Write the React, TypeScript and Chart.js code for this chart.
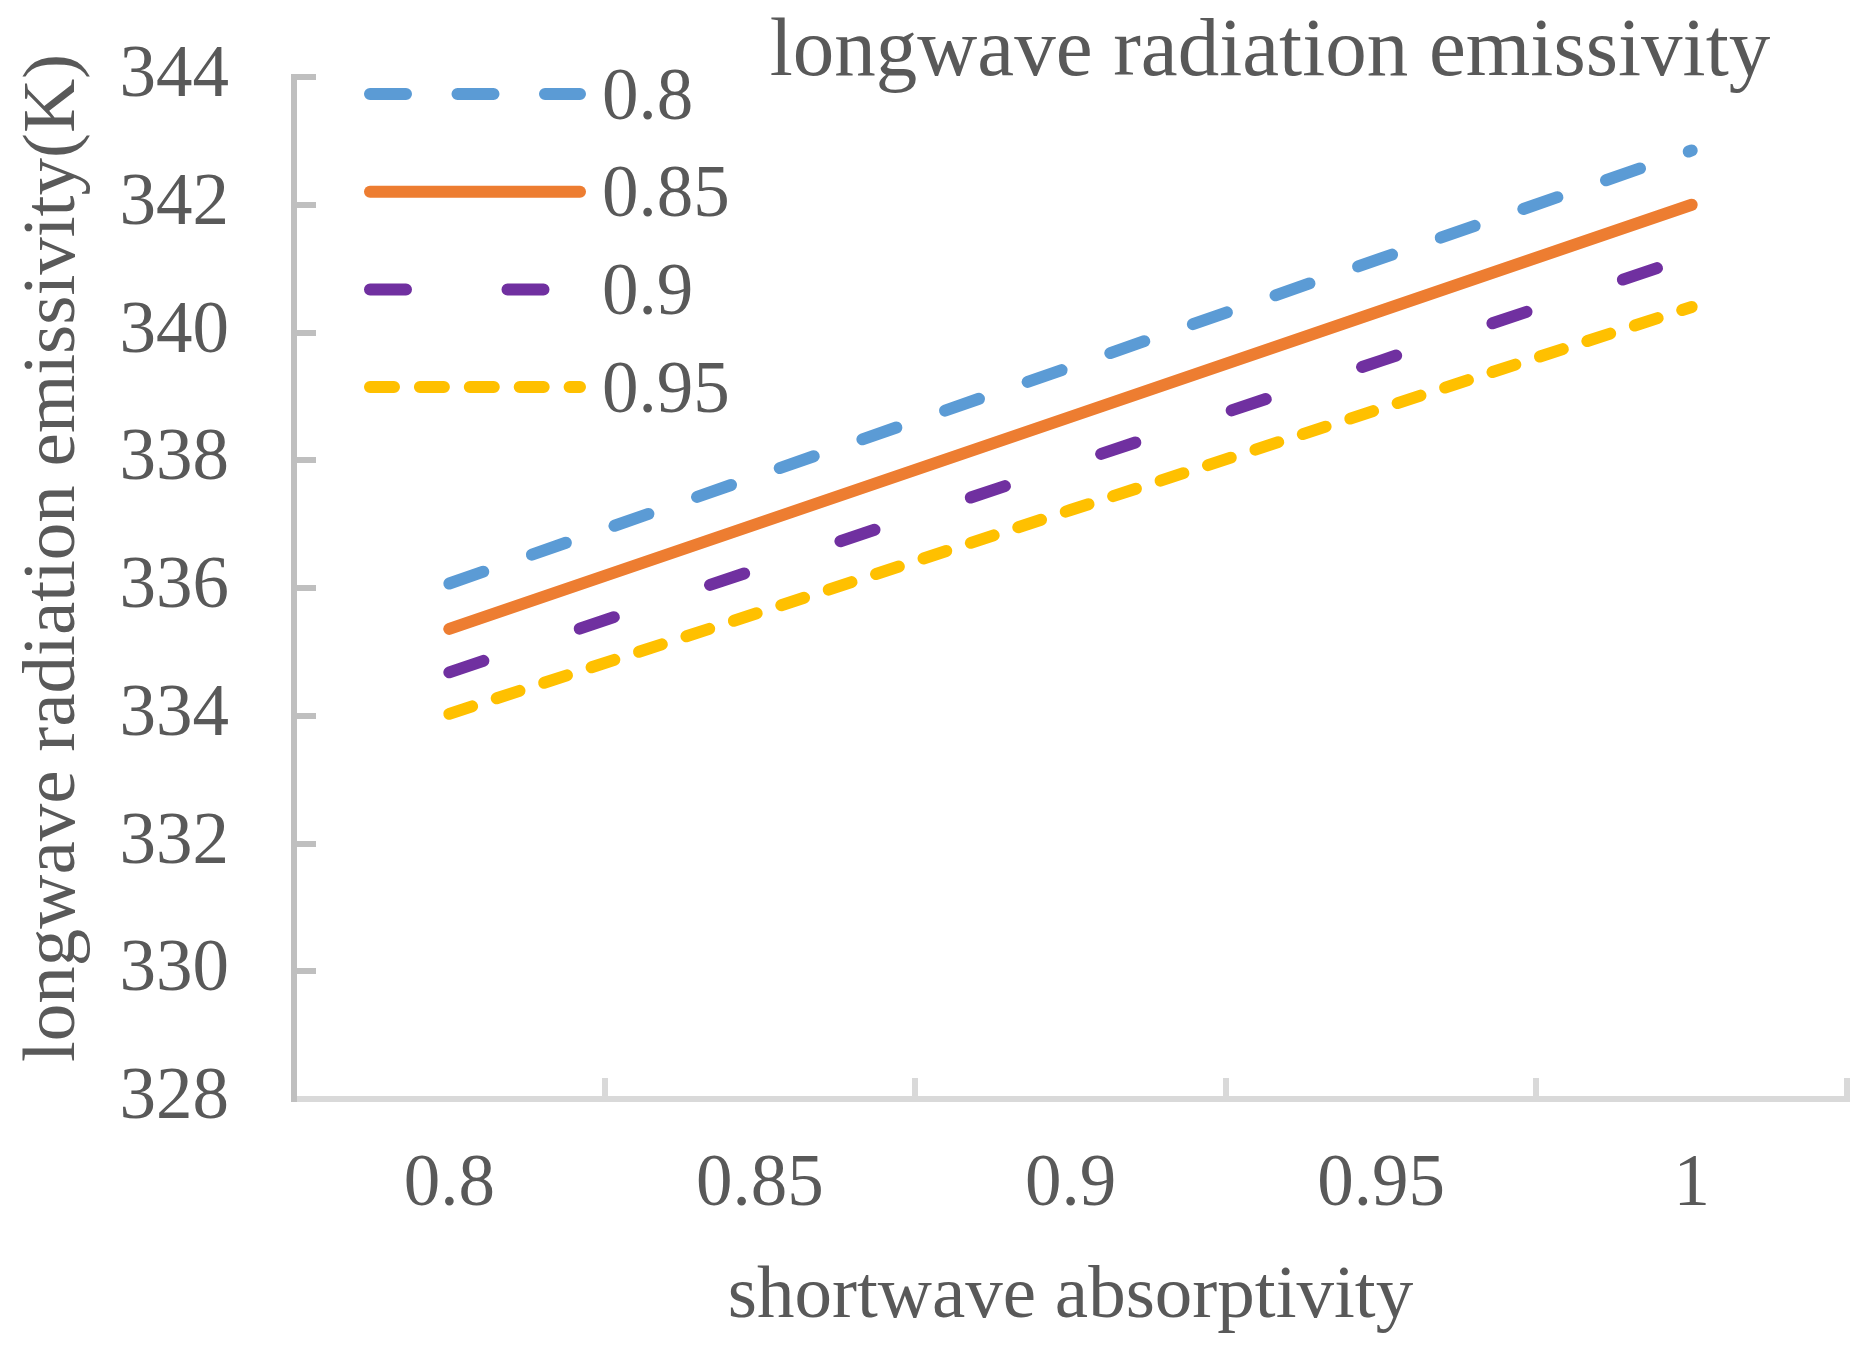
import React, { useEffect, useRef } from 'react';
import Chart from 'chart.js/auto';

// x categories (shortwave absorptivity)
const absorptivity = ['0.8', '0.85', '0.9', '0.95', '1'];

// one series per longwave emissivity
const seriesLabels = ['0.8', '0.85', '0.9', '0.95'];
const emis080 = [336.07, 337.77, 339.46, 341.16, 342.85];
const emis085 = [335.36, 337.02, 338.68, 340.34, 342.0];
const emis090 = [334.68, 336.31, 337.94, 339.56, 341.19];
const emis095 = [334.03, 335.62, 337.22, 338.81, 340.4];

const yMin = 328;
const yMax = 344;
const yStep = 2;

const chartTitle = 'longwave radiation emissivity';
const xTitle = 'shortwave absorptivity';
const yTitle = 'longwave radiation emissivity(K)';

const TEXT = '#595959';
const FONT = 'Liberation Serif';

// draws the title, the rotated y title and the in-plot legend like Excel does
const overlayPlugin = {
  id: 'overlay',
  afterDraw(chart: any) {
    const ctx = chart.ctx as CanvasRenderingContext2D;
    ctx.save();
    ctx.fillStyle = TEXT;
    ctx.textBaseline = 'alphabetic';

    ctx.font = `83px "${FONT}"`;
    ctx.textAlign = 'center';
    ctx.fillText(chartTitle, 1270, 75);

    ctx.save();
    ctx.font = `75px "${FONT}"`;
    ctx.translate(74, 558);
    ctx.rotate(-Math.PI / 2);
    ctx.fillText(yTitle, 0, 0);
    ctx.restore();

    // legend
    ctx.font = `73px "${FONT}"`;
    ctx.textAlign = 'left';
    chart.data.datasets.forEach((ds: any, i: number) => {
      const y = 94 + i * 97.7;
      ctx.strokeStyle = ds.borderColor;
      ctx.lineWidth = ds.borderWidth;
      ctx.lineCap = 'round';
      ctx.setLineDash(ds.borderDash || []);
      ctx.beginPath();
      ctx.moveTo(370, y);
      ctx.lineTo(580, y);
      ctx.stroke();
      ctx.setLineDash([]);
      ctx.fillText(ds.label, 602, y + 24.5);
    });
    ctx.restore();
  },
};

const EmissivityChart: React.FC = () => {
  const chartRef = useRef<HTMLCanvasElement>(null);
  const chartInstance = useRef<Chart | null>(null);

  useEffect(() => {
    if (!chartRef.current) return;
    if (chartInstance.current) {
      chartInstance.current.destroy();
    }

    const line = (label: string, data: number[], color: string, dash: number[]) => ({
      label,
      data,
      borderColor: color,
      backgroundColor: color,
      borderWidth: 12,
      borderDash: dash,
      borderCapStyle: 'round' as const,
      borderJoinStyle: 'round' as const,
      pointRadius: 0,
      pointHoverRadius: 0,
      tension: 0,
      fill: false,
    });

    const ctx = chartRef.current.getContext('2d');
    if (ctx) {
      chartInstance.current = new Chart(ctx, {
        type: 'line',
        data: {
          labels: absorptivity,
          datasets: [
            line(seriesLabels[0], emis080, '#5B9BD5', [36, 51.5]),
            line(seriesLabels[1], emis085, '#ED7D31', []),
            line(seriesLabels[2], emis090, '#7030A0', [36, 101.5]),
            line(seriesLabels[3], emis095, '#FFC000', [24, 25.9]),
          ],
        },
        options: {
          responsive: false,
          animation: false,
          layout: {
            padding: { top: 77, right: 19, left: 0, bottom: 0 },
          },
          scales: {
            x: {
              type: 'category',
              offset: true,
              grid: {
                offset: true,
                drawOnChartArea: false,
                drawTicks: true,
                tickLength: -21,
                color: '#D9D9D9',
                lineWidth: 6,
              },
              border: { color: '#D9D9D9', width: 6 },
              ticks: {
                color: TEXT,
                font: { family: FONT, size: 73 },
                padding: 64,
                maxRotation: 0,
                autoSkip: false,
              },
              title: {
                display: true,
                text: xTitle,
                color: TEXT,
                font: { family: FONT, size: 75 },
                padding: { top: 0, bottom: 11 },
              },
              afterFit: (scale: any) => {
                scale.height = 254;
                scale.paddingLeft = 0;
                scale.paddingRight = 0;
              },
            },
            y: {
              min: yMin,
              max: yMax,
              grid: {
                drawOnChartArea: false,
                drawTicks: true,
                tickLength: -22,
                color: '#BFBFBF',
                lineWidth: 6,
              },
              border: { color: '#BFBFBF', width: 6 },
              ticks: {
                stepSize: yStep,
                color: TEXT,
                font: { family: FONT, size: 73 },
                padding: 87,
              },
              afterFit: (scale: any) => {
                scale.width = 294;
                scale.paddingTop = 0;
                scale.paddingBottom = 0;
              },
            },
          },
          plugins: {
            legend: { display: false },
            title: { display: false },
            tooltip: { enabled: false },
          },
        },
        plugins: [overlayPlugin],
      });
    }

    return () => {
      if (chartInstance.current) {
        chartInstance.current.destroy();
        chartInstance.current = null;
      }
    };
  }, []);

  return (
    <div style={{ position: 'fixed', left: 0, top: 0, width: 1866, height: 1353, background: '#fff' }}>
      <canvas ref={chartRef} width={1866} height={1353} style={{ display: 'block' }}></canvas>
    </div>
  );
};

export default function App() {
  return <EmissivityChart />;
}
